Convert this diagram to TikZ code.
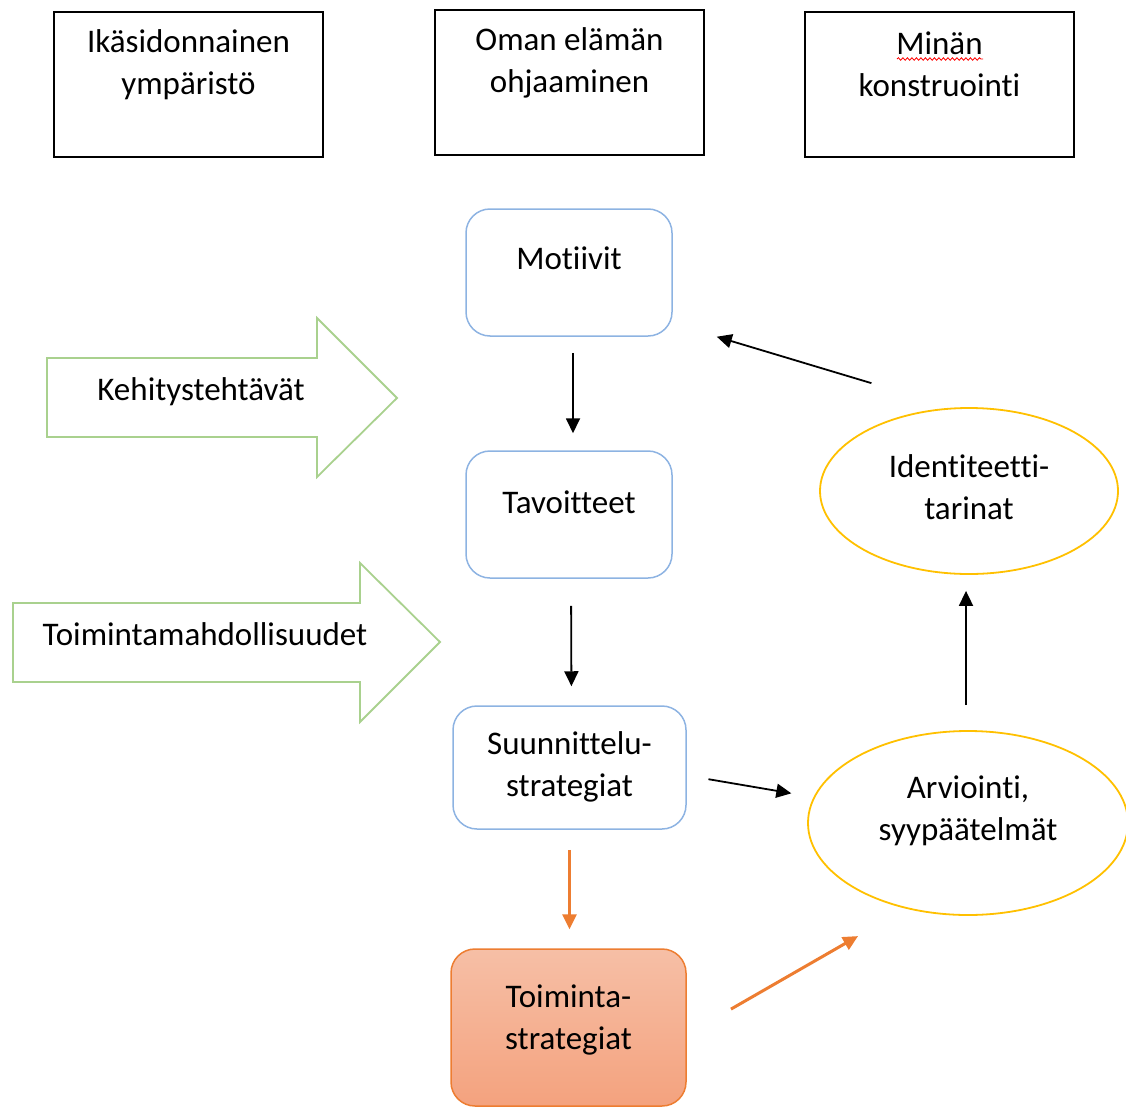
\documentclass[tikz,border=0pt]{standalone}
\usepackage{fontspec}
\setmainfont{Carlito}[Ligatures=NoCommon]
\usepackage{tikz}
\usetikzlibrary{arrows.meta,calc,positioning,shapes.geometric,decorations.pathmorphing}
\definecolor{frameblue}{HTML}{8DB3E2}
\definecolor{arrowgreen}{HTML}{A9D18E}
\definecolor{ovalyellow}{HTML}{FFC000}
\definecolor{accentorange}{HTML}{ED7D31}
\definecolor{orangetop}{HTML}{F6BFA6}
\definecolor{orangebot}{HTML}{F4A27E}

\begin{document}
\begin{tikzpicture}[x=1pt,y=-1pt,>={Triangle[length=15pt,width=14pt]},
  every node/.style={font=\fontsize{33}{42}\selectfont,align=center,inner sep=0pt},
  topbox/.style={draw,line width=2pt,minimum width=269pt,minimum height=145pt},
  stagebox/.style={draw=frameblue,line width=1.5pt,rounded corners=24pt},
  oval/.style={ellipse,draw=ovalyellow,line width=1.8pt},
  flow/.style={->,line width=1.8pt},
  hot/.style={->,accentorange,line width=3pt}]
\useasboundingbox (0,0) rectangle (1126,1108);
% column headings
\node[topbox] (ika) at (188.5,84.5) {};
\node[topbox] (oma) at (569.5,82.5) {};
\node[topbox] (min) at (939.5,84.5) {};
\node (ikaT) at ([yshift=20pt]ika.center) {Ikäsidonnainen\\ympäristö};
\node (omaT) at ([yshift=20pt]oma.center) {Oman elämän\\ohjaaminen};
\node (minT) at ([yshift=20pt]min.center) {Minän\\konstruointi};
\draw[red,line width=0.8pt,decorate,decoration={snake,amplitude=1.3pt,segment length=4.5pt}] (897,59)--(983,59);
% middle column
\node[stagebox,minimum width=206pt,minimum height=127pt] (mot) at (569,272.5) {};
\node[stagebox,minimum width=206pt,minimum height=127pt] (tav) at (569,514.5) {};
\node[stagebox,minimum width=233pt,minimum height=123pt] (sun) at (569.5,767.5) {};
\node[stagebox,draw=accentorange,top color=orangetop,bottom color=orangebot,minimum width=235pt,minimum height=157pt] (toi) at (568.5,1027.5) {};
\node (motT) at ([yshift=14pt]mot.center) {Motiivit};
\node (tavT) at ([yshift=12pt]tav.center) {Tavoitteet};
\node (sunT) at ([yshift=1pt]sun.center) {Suunnittelu-\\strategiat};
\node (toiT) at ([yshift=8pt]toi.center) {Toiminta-\\strategiat};
% right column
\node[oval,minimum width=298pt,minimum height=166pt] (idt) at (969,491) {};
\node[oval,minimum width=320pt,minimum height=184pt] (arv) at (968,823) {};
\node (idtT) at ([yshift=4pt]idt.center) {Identiteetti-\\tarinat};
\node (arvT) at ([yshift=12pt]arv.center) {Arviointi,\\syypäätelmät};
% block arrows
\draw[arrowgreen,line width=1.8pt] (47,358)--(317,358)--(317,318)--(397,398)--(317,477)--(317,437)--(47,437)--cycle;
\draw[arrowgreen,line width=1.8pt] (13,603)--(360,603)--(360,563)--(440,642)--(360,722)--(360,682)--(13,682)--cycle;
\node (keh) at (201,392) {Kehitystehtävät};
\node (mah) at (205,634) {Toimintamahdollisuudet};
% connectors
\draw[flow,shorten <=16pt,shorten >=17pt] ([xshift=4pt]mot.south) -- ([xshift=4pt]tav.north);
\draw[flow,shorten <=27pt,shorten >=19pt] ([xshift=2pt]tav.south) -- ([xshift=2pt]sun.north);
\draw[hot,shorten <=20pt,shorten >=19pt] (sun.south) -- ([xshift=1pt]toi.north);
\draw[flow,shorten <=22pt,shorten >=16pt] ([yshift=-8pt]sun.east) -- ([yshift=27pt]arv.west);
\draw[hot,shorten <=51pt,shorten >=55pt] ([yshift=-7pt]toi.east) -- (arv.234);
\draw[flow,shorten <=25pt,shorten >=16pt] ([xshift=-2pt]arv.north) -- ([xshift=-3pt]idt.south);
\draw[flow,shorten <=85pt,shorten >=46pt] (idt.101) -- ([yshift=-51pt]mot.east);
\end{tikzpicture}
\end{document}
